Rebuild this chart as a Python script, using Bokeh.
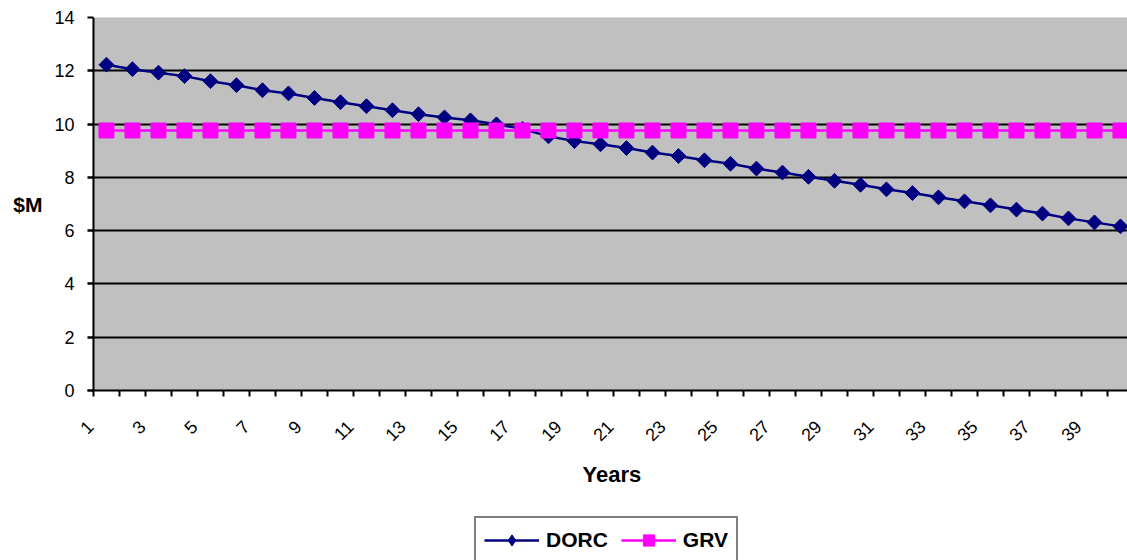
import math
from bokeh.plotting import figure
from bokeh.layouts import column
from bokeh.models import (FixedTicker, Legend, LegendItem, LinearAxis, Range1d,
                          BoxAnnotation, Span, Title)
from bokeh.embed import file_html
from bokeh.resources import INLINE

years = list(range(1, 41))
dorc = [12.23, 12.06, 11.93, 11.80, 11.61, 11.46, 11.27, 11.15, 10.98, 10.82,
        10.67, 10.52, 10.37, 10.25, 10.14, 9.99, 9.82, 9.54, 9.36, 9.24,
        9.10, 8.93, 8.80, 8.64, 8.51, 8.33, 8.18, 8.02, 7.87, 7.72,
        7.55, 7.41, 7.25, 7.10, 6.95, 6.79, 6.64, 6.46, 6.31, 6.16]
grv = [9.76] * 40
y_ticks = [0, 2, 4, 6, 8, 10, 12, 14]
x_label_years = [y for y in years if y % 2 == 1]

FONT = "Liberation Sans"
LABEL_SHIFT = 0.625   # rotated labels end left of the category centre
NAVY = "#000080"
MAGENTA = "#FF00FF"

# frame starts a little left of the first category so ticks can sit there
X0, X1 = 0.27, 40.27

p = figure(width=1127, height=516, output_backend="svg", toolbar_location=None,
           x_range=Range1d(X0, X1), y_range=Range1d(0, 14),
           min_border_left=87, min_border_right=0, min_border_top=17, min_border_bottom=126)
p.border_fill_color = "white"
p.background_fill_color = "white"
p.outline_line_color = None

# grey plot area (from the category boundary at 0.5)
p.add_layout(BoxAnnotation(left=0.5, right=X1 + 1, bottom=0, top=14,
                           fill_color="#C0C0C0", fill_alpha=1,
                           line_color="#808080", line_width=1.5, level="image"))

# grid
p.xgrid.visible = False
p.ygrid.ticker = FixedTicker(ticks=[t for t in y_ticks if t < 14])
p.ygrid.grid_line_color = "black"
p.ygrid.grid_line_width = 2

# y axis: line drawn at category boundary 0.5, ticks fill the strip to its left
p.yaxis.ticker = FixedTicker(ticks=y_ticks)
p.yaxis.axis_line_color = None
p.yaxis.major_tick_out = 0
p.yaxis.major_tick_in = 6
p.yaxis.major_tick_line_width = 2
p.yaxis.major_tick_line_color = "black"
p.yaxis.minor_tick_line_color = None
p.yaxis.major_label_text_font = FONT
p.yaxis.major_label_text_font_size = "18px"
p.yaxis.major_label_text_color = "black"
p.yaxis.major_label_standoff = 13
p.add_layout(Span(location=0.5, dimension="height", line_color="black", line_width=2))

# "$M" label drawn as a horizontal label on an extra left axis
ylab_axis = LinearAxis(ticker=FixedTicker(ticks=[7]), major_label_overrides={7: "$M"})
ylab_axis.axis_line_color = None
ylab_axis.major_tick_line_color = None
ylab_axis.minor_tick_line_color = None
ylab_axis.major_label_text_font = FONT
ylab_axis.major_label_text_font_style = "bold"
ylab_axis.major_label_text_font_size = "21px"
ylab_axis.major_label_text_color = "black"
ylab_axis.major_label_standoff = 3
p.add_layout(ylab_axis, "left")

# x axis
label_pos = [y - LABEL_SHIFT for y in x_label_years]
p.xaxis.ticker = FixedTicker(ticks=label_pos,
                             minor_ticks=[y - 0.5 for y in years] + [40.5])
p.xaxis.major_label_overrides = {pos: str(y) for pos, y in zip(label_pos, x_label_years)}
p.xaxis.major_label_orientation = math.pi / 4
p.xaxis.major_tick_line_color = None
p.xaxis.minor_tick_out = 6
p.xaxis.minor_tick_in = 0
p.xaxis.minor_tick_line_width = 2
p.xaxis.minor_tick_line_color = "black"
p.xaxis.axis_line_color = "black"
p.xaxis.axis_line_width = 2
p.xaxis.major_label_text_font = FONT
p.xaxis.major_label_text_font_size = "18px"
p.xaxis.major_label_text_color = "black"
p.xaxis.major_label_standoff = 27

p.add_layout(Title(text="Years", align="left", offset=495, standoff=20,
                   text_font=FONT, text_font_style="bold", text_font_size="22px",
                   text_color="black"), "below")

p.line(years, dorc, line_color=NAVY, line_width=2.5)
p.scatter(years, dorc, marker="square", angle=math.pi / 4, size=10.5,
          fill_color=NAVY, line_color=NAVY)
p.line(years, grv, line_color=MAGENTA, line_width=2.5)
p.scatter(years, grv, marker="square", size=15, fill_color=MAGENTA, line_color=MAGENTA)

# legend strip below the chart (its own renderers lie outside its view)
p2 = figure(width=1127, height=44, output_backend="svg", toolbar_location=None,
            x_axis_location=None, y_axis_location=None,
            x_range=Range1d(-200, -199), y_range=Range1d(-200, -199),
            min_border=0, min_border_left=0, min_border_right=0,
            min_border_top=0, min_border_bottom=0)
p2.outline_line_color = None
p2.grid.visible = False
p2.background_fill_color = "white"
p2.border_fill_color = "white"
l1 = p2.line(years, dorc, line_color=NAVY, line_width=2.5)
s1 = p2.scatter(years, dorc, marker="diamond", size=18,
                fill_color=NAVY, line_color=NAVY)
l2 = p2.line(years, grv, line_color=MAGENTA, line_width=2.5)
s2 = p2.scatter(years, grv, marker="square", size=15, fill_color=MAGENTA, line_color=MAGENTA)

legend = Legend(items=[LegendItem(label="DORC", renderers=[l1, s1]),
                       LegendItem(label="GRV", renderers=[l2, s2])],
                orientation="horizontal", location=(387, -4))
legend.label_text_font = FONT
legend.label_text_font_style = "bold"
legend.label_text_font_size = "21px"
legend.label_text_color = "black"
legend.border_line_color = "black"
legend.border_line_width = 2
legend.background_fill_color = "white"
legend.glyph_width = 55
legend.glyph_height = 28
legend.label_height = 28
legend.label_standoff = 7
legend.spacing = 13
legend.padding = 8
legend.margin = 0
p2.add_layout(legend, "center")

layout = column(p, p2, spacing=0)
open("out.html", "w").write(file_html(layout, INLINE))
